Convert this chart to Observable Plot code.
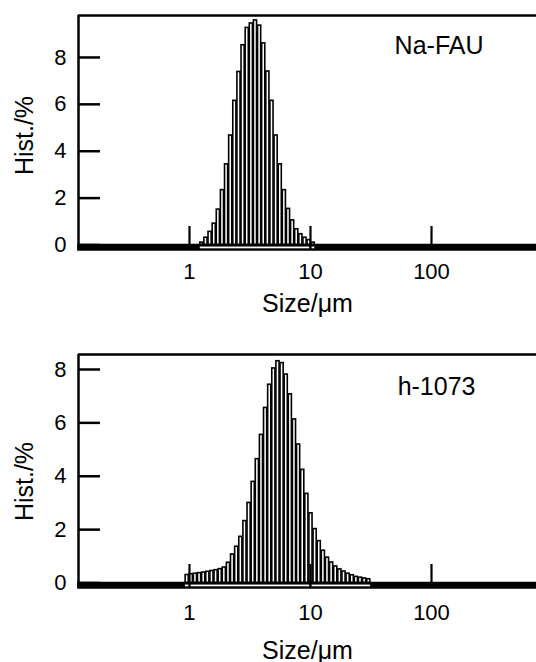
<!DOCTYPE html>
<html><head><meta charset="utf-8">
<script src="https://cdn.jsdelivr.net/npm/d3@7"></script>
<script src="https://cdn.jsdelivr.net/npm/@observablehq/plot@0.6"></script>
<style>
body{margin:0;background:#fff;overflow:hidden}
svg{display:block}
</style>
</head><body><div id="chart"></div>
<script>
// ---- data ----
const xTicks = [1, 10, 100];
const xTickLabels = ["1", "10", "100"];
const yTicks = [0, 2, 4, 6, 8];
const yTickLabels = ["0", "2", "4", "6", "8"];
const xTitle = "Size/\u03bcm";
const yTitle = "Hist./%";
const binLogWidth = 0.0341;           // width of one size channel, decades

const naFauName = "Na-FAU";
const naFauStartLog = 0.085;          // log10 of first channel's lower edge (µm)
const naFauValues = [0.1, 0.31, 0.56, 0.91, 1.51, 2.34, 3.44, 4.67, 6.15, 7.38, 8.52, 9.26, 9.45, 9.58,
  9.36, 8.6, 7.4, 6.15, 4.67, 3.44, 2.34, 1.54, 1.05, 0.67, 0.46, 0.31, 0.21, 0.1];

const h1073Name = "h-1073";
const h1073StartLog = -0.036;
const h1073Values = [0.3, 0.33, 0.35, 0.37, 0.39, 0.42, 0.45, 0.48, 0.52, 0.58, 0.76, 1.07, 1.36, 1.73,
  2.32, 3.0, 3.79, 4.64, 5.55, 6.56, 7.43, 8.04, 8.31, 8.24, 7.81, 7.07, 6.13, 5.19, 4.24, 3.34, 2.61,
  2.02, 1.57, 1.21, 0.95, 0.77, 0.62, 0.51, 0.43, 0.35, 0.29, 0.23, 0.2, 0.17, 0.14];

// ---- layout ----
const W = 536;
const FONT = "'Liberation Sans', Arial, Helvetica, sans-serif";
const xDomain = [0.121, 737.5];
const mL = 78, mR = 0;

function panel(o) {
  const {values, startLog, name, height, marginTop, marginBottom, yDomain,
         tickDy, titleDy, yTitleDy, nameDx, nameDy} = o;
  const bins = values.map((v, i) => ({
    x1: Math.pow(10, startLog + i * binLogWidth),
    x2: Math.pow(10, startLog + (i + 1) * binLogWidth),
    v
  }));
  const unit = (height - marginTop - marginBottom) / (yDomain[1] - yDomain[0]); // px per %
  const ppd = (W - mL - mR) / (Math.log10(xDomain[1]) - Math.log10(xDomain[0])); // px per decade
  const first = bins[0].x1, last = bins[bins.length - 1].x2;
  const strip = [];
  if (last > 10 && first < 10) { strip.push({a: first, b: 10}, {a: 10, b: last}); }
  else strip.push({a: first, b: last});

  return Plot.plot({
    width: W, height, marginLeft: mL, marginRight: mR, marginTop, marginBottom,
    style: {fontFamily: FONT, background: "white", color: "black", overflow: "visible"},
    x: {type: "log", domain: xDomain, axis: null},
    y: {domain: yDomain, axis: null},
    marks: [
      // bars
      Plot.rect(bins, {x1: "x1", x2: "x2", y1: 0, y2: "v", fill: "white", stroke: "black",
        strokeWidth: 1.6, insetLeft: 0.5, insetRight: 0.5}),
      // thick base band
      Plot.rect([0], {x1: xDomain[0], x2: xDomain[1], y1: yDomain[0], y2: 0, fill: "black",
        stroke: "black", strokeWidth: 1.5}),
      // white strip beneath the populated channels
      Plot.rect(strip, {x1: "a", x2: "b", y1: -4.3 / unit, y2: -1.6 / unit, fill: "white",
        stroke: "black", strokeWidth: 0.8}),
      // inner x ticks
      Plot.ruleX(xTicks, {y1: yDomain[0], y2: yDomain[0] + 24 / unit, stroke: "black", strokeWidth: 2.2}),
      // inner y ticks
      Plot.ruleY(yTicks, {x1: xDomain[0], x2: xDomain[0] * Math.pow(10, 22 / ppd), stroke: "black", strokeWidth: 2.5}),
      // left spine and top border
      Plot.ruleX([xDomain[0]], {stroke: "black", strokeWidth: 2.5}),
      Plot.ruleY([yDomain[1]], {stroke: "black", strokeWidth: 2.5}),
      // tick labels
      Plot.text(xTicks, {x: d => d, text: (d, i) => xTickLabels[i], frameAnchor: "bottom", dy: tickDy,
        textAnchor: "middle", lineAnchor: "middle", fontSize: 22, fill: "black"}),
      Plot.text(yTicks, {y: d => d, text: (d, i) => yTickLabels[i], frameAnchor: "left", dx: -12,
        textAnchor: "end", lineAnchor: "middle", fontSize: 22, fill: "black"}),
      // axis titles
      Plot.text([xTitle], {text: d => d, frameAnchor: "bottom", dy: titleDy, textAnchor: "middle",
        lineAnchor: "middle", fontSize: 25, fill: "black"}),
      Plot.text([yTitle], {text: d => d, frameAnchor: "left", dx: -54, dy: yTitleDy, rotate: -90,
        textAnchor: "middle", lineAnchor: "middle", fontSize: 25, fill: "black"}),
      // sample name
      Plot.text([name], {text: d => d, frameAnchor: "top-right", dx: nameDx, dy: nameDy,
        textAnchor: "end", lineAnchor: "middle", fontSize: 25, fill: "black"})
    ]
  });
}

const chart = document.getElementById("chart");
chart.append(panel({values: naFauValues, startLog: naFauStartLog, name: naFauName,
  height: 331, marginTop: 15, marginBottom: 81, yDomain: [-0.235, 9.79],
  tickDy: 21, titleDy: 53, yTitleDy: 2.5, nameDx: -53, nameDy: 30}));
chart.append(panel({values: h1073Values, startLog: h1073StartLog, name: h1073Name,
  height: 331, marginTop: 23, marginBottom: 74, yDomain: [-0.206, 8.562],
  tickDy: 24, titleDy: 62, yTitleDy: 10, nameDx: -61, nameDy: 32}));
</script>
</body></html>
